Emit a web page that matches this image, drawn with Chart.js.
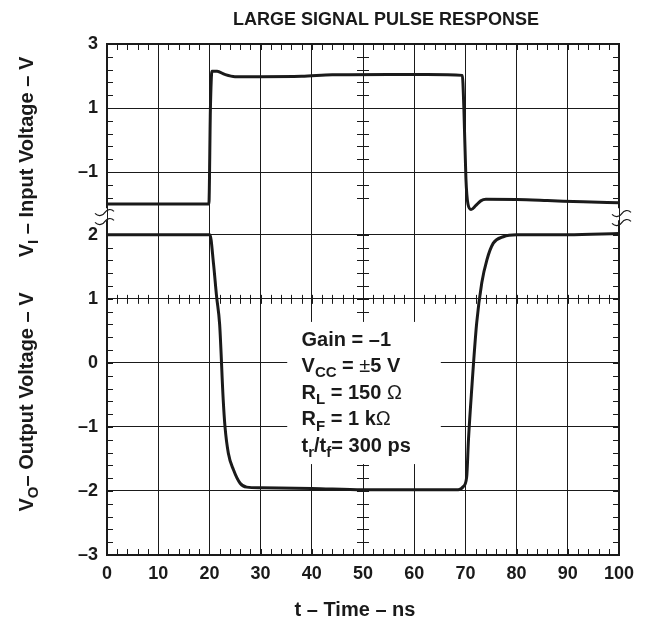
<!DOCTYPE html>
<html>
<head>
<meta charset="utf-8">
<script src="https://cdn.jsdelivr.net/npm/chart.js@4/dist/chart.umd.min.js"></script>
<style>
  html, body { margin: 0; padding: 0; background: #fff; }
  canvas { display: block; }
</style>
</head>
<body>
<canvas id="pulse" width="658" height="623"></canvas>
<script>
/* -----------------------------------------
   data
----------------------------------------- */
const timeIn = [0, 19.9, 20.2, 20.5, 21.5, 23, 25, 30, 38, 44, 55, 62.5, 69.4, 69.7, 70.1, 70.5, 71.1, 72, 73, 74, 80, 86, 93, 100];
const inputVolts = [-2.0, -2.0, 1.0, 2.15, 2.15, 2.05, 1.98, 1.98, 1.99, 2.04, 2.05, 2.05, 2.02, 1.0, -1.2, -2.0, -2.17, -2.05, -1.9, -1.85, -1.86, -1.89, -1.93, -1.96];

const timeOut = [0, 20.1, 20.8, 21.4, 22.0, 22.7, 23.05, 23.7, 24.7, 26, 27.3, 30, 40, 50, 60, 68.6, 69.6, 70.25, 70.6, 71.2, 72.2, 73.2, 74.2, 75.45, 77.4, 80, 90, 100];
const outputVolts = [2.0, 2.0, 1.55, 1.04, 0.6, -0.58, -1.0, -1.41, -1.67, -1.88, -1.94, -1.95, -1.96, -1.98, -1.98, -1.98, -1.93, -1.78, -1.2, -0.45, 0.62, 1.25, 1.61, 1.87, 1.97, 2.0, 2.0, 2.02];

const timeTicks = [0, 10, 20, 30, 40, 50, 60, 70, 80, 90, 100];
const inTicks = [3, 1, -1];
const outTicks = [2, 1, 0, -1, -2, -3];

const titleText = "LARGE SIGNAL PULSE RESPONSE";
const xTitle = [["t – Time – ns", "b"]];
const inTitle = [["V", "b"], ["I", "s"], [" – Input Voltage – V", "b"]];
const outTitle = [["V", "b"], ["O", "s"], ["– Output Voltage – V", "b"]];
const notes = [
    [["Gain = –1", "b"]],
    [["V", "b"], ["CC", "s"], [" = ", "b"], ["±", "y"], ["5 V", "b"]],
    [["R", "b"], ["L", "s"], [" = 150 ", "b"], ["Ω", "y"]],
    [["R", "b"], ["F", "s"], [" = 1 k", "b"], ["Ω", "y"]],
    [["t", "b"], ["r", "s"], ["/t", "b"], ["f", "s"], ["= 300 ps", "b"]]
];

/* -----------------------------------------
   helpers
----------------------------------------- */
const FONT = "'Liberation Sans', Arial, sans-serif";
const INK = "#1a1a1a";

function dash(v) {
    return v < 0 ? "–" + Math.abs(v) : String(v);
}

function fontFor(kind, size) {
    if (kind === "s") return "bold " + Math.round(size * 0.74) + "px " + FONT;
    if (kind === "y") return size + "px " + FONT;
    return "bold " + size + "px " + FONT;
}

function richWidth(ctx, parts, size) {
    let w = 0;
    parts.forEach(([txt, kind]) => {
        ctx.font = fontFor(kind, size);
        w += ctx.measureText(txt).width;
    });
    return w;
}

function drawRich(ctx, parts, x, y, size) {
    parts.forEach(([txt, kind]) => {
        ctx.font = fontFor(kind, size);
        ctx.fillText(txt, x, kind === "s" ? y + size * 0.26 : y);
        x += ctx.measureText(txt).width;
    });
}

function squiggle(ctx, cx, cy) {
    ctx.moveTo(cx - 9, cy + 1);
    ctx.bezierCurveTo(cx - 5, cy + 5, cx - 1, cy + 3, cx + 1, cy);
    ctx.bezierCurveTo(cx + 3, cy - 3, cx + 7, cy - 4, cx + 10, cy - 1);
}

/* -----------------------------------------
   scope grid, frame and labels
----------------------------------------- */
const scopePlugin = {
    id: "scope",
    beforeDatasetsDraw(chart) {
        const { ctx, chartArea: a, scales: { x, yIn, yOut } } = chart;
        const cx = x.getPixelForValue(50);
        const cy = yOut.getPixelForValue(1);
        ctx.save();
        ctx.strokeStyle = INK;
        ctx.lineWidth = 1;
        ctx.beginPath();

        // minor ticks along time
        for (let i = 0; i <= 50; i++) {
            const px = Math.round(x.getPixelForValue(i * 2)) + 0.5;
            ctx.moveTo(px, a.top); ctx.lineTo(px, a.top + 6);
            ctx.moveTo(px, a.bottom); ctx.lineTo(px, a.bottom - 6);
            ctx.moveTo(px, cy - 4); ctx.lineTo(px, cy + 5);
        }
        // minor ticks, input panel (0.4 V)
        for (let i = 0; i <= 12; i++) {
            const py = Math.round(yIn.getPixelForValue(3 - i * 0.4)) + 0.5;
            ctx.moveTo(a.left, py); ctx.lineTo(a.left + 6, py);
            ctx.moveTo(a.right, py); ctx.lineTo(a.right - 6, py);
            ctx.moveTo(cx - 6, py); ctx.lineTo(cx + 6, py);
        }
        // minor ticks, output panel (0.2 V)
        for (let i = 0; i <= 25; i++) {
            const py = Math.round(yOut.getPixelForValue(-3 + i * 0.2)) + 0.5;
            ctx.moveTo(a.left, py); ctx.lineTo(a.left + 6, py);
            ctx.moveTo(a.right, py); ctx.lineTo(a.right - 6, py);
            ctx.moveTo(cx - 6, py); ctx.lineTo(cx + 6, py);
        }
        ctx.stroke();

        // blank area behind the test conditions
        const bx0 = x.getPixelForValue(35.2), bx1 = x.getPixelForValue(65.2);
        const by0 = yOut.getPixelForValue(0.64), by1 = yOut.getPixelForValue(-1.58);
        ctx.fillStyle = "#fff";
        ctx.fillRect(bx0, by0, bx1 - bx0, by1 - by0);
        ctx.restore();
    },
    afterDatasetsDraw(chart) {
        const { ctx, chartArea: a, scales: { x, yIn, yOut } } = chart;
        const b = yIn.bottom;
        ctx.save();
        ctx.strokeStyle = INK;
        ctx.lineWidth = 2;
        ctx.beginPath();
        ctx.moveTo(a.left, a.top); ctx.lineTo(a.right, a.top);
        ctx.moveTo(a.left, a.bottom); ctx.lineTo(a.right, a.bottom);
        ctx.moveTo(a.left, a.top - 1); ctx.lineTo(a.left, b - 6);
        ctx.moveTo(a.left, b + 6); ctx.lineTo(a.left, a.bottom + 1);
        ctx.moveTo(a.right, a.top - 1); ctx.lineTo(a.right, b - 6);
        ctx.moveTo(a.right, b + 6); ctx.lineTo(a.right, a.bottom + 1);
        ctx.stroke();

        // axis break marks
        ctx.lineWidth = 1.2;
        ctx.beginPath();
        squiggle(ctx, a.left - 3, b - 2);
        squiggle(ctx, a.left - 3, b + 7);
        squiggle(ctx, a.right + 2, b - 1);
        squiggle(ctx, a.right + 2, b + 8);
        ctx.stroke();

        // test conditions
        ctx.fillStyle = INK;
        ctx.textAlign = "left";
        ctx.textBaseline = "alphabetic";
        const nx = x.getPixelForValue(38.0);
        const ny = yOut.getPixelForValue(0.27);
        notes.forEach((line, i) => drawRich(ctx, line, nx, ny + i * 26.6, 20));
        ctx.restore();
    },
    afterDraw(chart) {
        const { ctx } = chart;
        ctx.save();
        ctx.fillStyle = INK;
        ctx.textBaseline = "alphabetic";

        ctx.font = "bold 18px " + FONT;
        ctx.textAlign = "center";
        ctx.fillText(titleText, 386, 25);

        ctx.textAlign = "left";
        const xw = richWidth(ctx, xTitle, 20);
        drawRich(ctx, xTitle, 355 - xw / 2, 616, 20);

        [[inTitle, 157], [outTitle, 402]].forEach(([parts, mid]) => {
            const w = richWidth(ctx, parts, 20);
            ctx.save();
            ctx.translate(33, mid);
            ctx.rotate(-Math.PI / 2);
            drawRich(ctx, parts, -w / 2, 0, 20);
            ctx.restore();
        });
        ctx.restore();
    }
};

/* -----------------------------------------
   chart
----------------------------------------- */
const tickFont = { family: FONT, size: 18, weight: "bold" };
const gridStyle = { color: INK, lineWidth: 1, drawTicks: false };

new Chart(document.getElementById("pulse"), {
    type: "line",
    data: {
        datasets: [
            {
                label: "VI",
                data: timeIn.map((t, i) => ({ x: t, y: inputVolts[i] })),
                yAxisID: "yIn",
                borderColor: INK,
                borderWidth: 3,
                pointRadius: 0,
                cubicInterpolationMode: "monotone"
            },
            {
                label: "VO",
                data: timeOut.map((t, i) => ({ x: t, y: outputVolts[i] })),
                yAxisID: "yOut",
                borderColor: INK,
                borderWidth: 3,
                pointRadius: 0,
                cubicInterpolationMode: "monotone"
            }
        ]
    },
    options: {
        responsive: false,
        animation: false,
        devicePixelRatio: 1,
        layout: { padding: { top: 44, right: 39, left: 0, bottom: 0 } },
        plugins: { legend: { display: false }, tooltip: { enabled: false } },
        scales: {
            x: {
                type: "linear",
                min: 0,
                max: 100,
                border: { display: false },
                grid: gridStyle,
                afterBuildTicks: s => { s.ticks = timeTicks.map(v => ({ value: v })); },
                afterFit: s => { s.height = 68; },
                ticks: { font: tickFont, color: INK, padding: 8, maxRotation: 0, autoSkip: false }
            },
            yOut: {
                type: "linear",
                position: "left",
                stack: "volts",
                stackWeight: 2,
                min: -3,
                max: 2.32,
                border: { display: false },
                grid: gridStyle,
                afterBuildTicks: s => { s.ticks = outTicks.map(v => ({ value: v })); },
                afterFit: s => { s.width = 107; },
                ticks: { font: tickFont, color: INK, padding: 9, callback: dash }
            },
            yIn: {
                type: "linear",
                position: "left",
                stack: "volts",
                stackWeight: 1,
                min: -2.32,
                max: 3,
                border: { display: false },
                grid: gridStyle,
                afterBuildTicks: s => { s.ticks = inTicks.map(v => ({ value: v })); },
                afterFit: s => { s.width = 107; },
                ticks: { font: tickFont, color: INK, padding: 9, callback: dash }
            }
        }
    },
    plugins: [scopePlugin]
});
</script>
</body>
</html>
